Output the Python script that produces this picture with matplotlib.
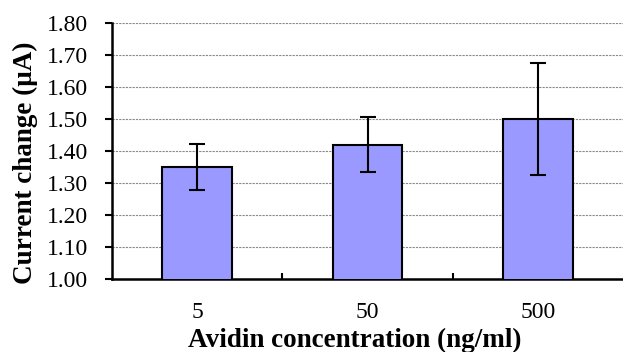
import matplotlib
matplotlib.use("Agg")
import matplotlib.pyplot as plt
import numpy as np

categories = ["5", "50", "500"]
values = [1.35, 1.42, 1.50]
errors = [0.073, 0.087, 0.175]
yticks = [1.00, 1.10, 1.20, 1.30, 1.40, 1.50, 1.60, 1.70, 1.80]

plt.rcParams['font.family'] = ['Liberation Serif', 'DejaVu Serif']

fig = plt.figure(figsize=(6.23, 3.52), dpi=100)
ax = fig.add_axes([112/623, 73/352, 511/623, 256/352])

x = np.arange(len(categories))
ax.bar(x, values, width=0.41, color='#9999ff', edgecolor='black', linewidth=1.5, zorder=3)
ax.errorbar(x, values, yerr=errors, fmt='none', ecolor='black', elinewidth=1.5,
            capsize=6, capthick=1.5, zorder=4)

ax.set_xlim(-0.5, 2.5)
ax.set_ylim(1.0, 1.8)
ax.set_yticks(yticks)
ax.set_yticklabels([f"{v:.2f}" for v in yticks], fontsize=17)
ax.yaxis.grid(True, linestyle=(0, (2, 1)), color='#888888', linewidth=0.8, zorder=0)
ax.set_axisbelow(True)

ax.set_xticks([0.5, 1.5])
ax.set_xticklabels(["", ""])
ax.tick_params(axis='x', direction='in', length=4, width=1.5)
ax.tick_params(axis='y', direction='out', length=5, width=1.5, pad=12)
for i, c in enumerate(categories):
    ax.text(i, -(312 - 279) / 256, c, transform=ax.get_xaxis_transform(), ha='center', va='center', fontsize=17)

for s in ['top', 'right']:
    ax.spines[s].set_visible(False)
ax.spines['left'].set_linewidth(1.8)
ax.spines['bottom'].set_linewidth(1.8)

fig.text(355/623, 1 - 340/352, "Avidin concentration (ng/ml)", fontsize=19.5, fontweight='bold',
         ha='center', va='center')
fig.text(25/623, 1 - 163/352, "Current change (\u03bcA)", fontsize=19.5, fontweight='bold',
         rotation=90, ha='center', va='center')

fig.savefig("out.png", dpi=100)
